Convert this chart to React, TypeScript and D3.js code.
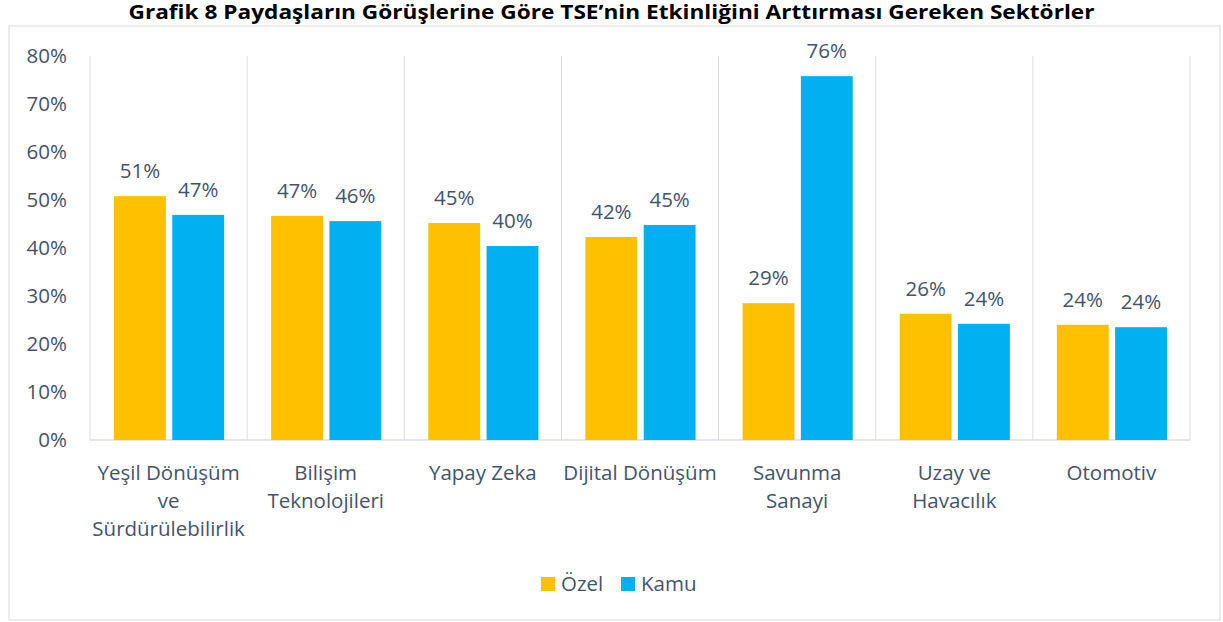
import React from 'react';
import * as d3 from 'd3';

const categories = [
  ['Yeşil Dönüşüm', 've', 'Sürdürülebilirlik'],
  ['Bilişim', 'Teknolojileri'],
  ['Yapay Zeka'],
  ['Dijital Dönüşüm'],
  ['Savunma', 'Sanayi'],
  ['Uzay ve', 'Havacılık'],
  ['Otomotiv'],
];
const ozel = [50.8, 46.7, 45.2, 42.3, 28.5, 26.3, 24.0];
const kamu = [46.9, 45.6, 40.4, 44.8, 75.8, 24.2, 23.5];
const ozelLabels = ['51%', '47%', '45%', '42%', '29%', '26%', '24%'];
const kamuLabels = ['47%', '46%', '40%', '45%', '76%', '24%', '24%'];
const yTicks = [0, 10, 20, 30, 40, 50, 60, 70, 80];
const seriesNames = ['Özel', 'Kamu'];
const colors = ['#FFC000', '#00B0F0'];

const W = 1223;
const H = 622;
const font = "'Open Sans', 'Noto Sans', sans-serif";
const textColor = '#44546A';
const fs = 20.5;

export default function App() {
  const left = 90;
  const right = 1190;
  const top = 56;
  const bottom = 440;

  const x = d3.scaleBand<number>()
    .domain(d3.range(categories.length))
    .range([left, right]);
  const inner = d3.scaleBand<number>()
    .domain([0, 1])
    .range([24, x.bandwidth() - 23])
    .paddingInner(0.11);
  const y = d3.scaleLinear().domain([0, 80]).range([bottom, top]);

  const series = [ozel, kamu];
  const labels = [ozelLabels, kamuLabels];

  return (
    <div style={{ position: 'fixed', left: 0, top: 0 }}>
      <svg width={W} height={H} style={{ display: 'block', background: '#fff' }}>
        <rect x={9} y={26} width={1211} height={594} fill="none" stroke="#D9D9D9" strokeWidth={1} />
        <text x={W / 2} y={19} textAnchor="middle" fontFamily={font} fontWeight="bold"
          fontSize={19} fill="#000" textLength={966} lengthAdjust="spacingAndGlyphs">
          Grafik 8 Paydaşların Görüşlerine Göre TSE’nin Etkinliğini Arttırması Gereken Sektörler
        </text>

        {/* category separators */}
        {d3.range(categories.length + 1).map(i => {
          const gx = left + i * x.bandwidth();
          return <line key={i} x1={gx} x2={gx} y1={top} y2={bottom} stroke="#D9DDE3" strokeWidth={1} />;
        })}
        <line x1={left} x2={right} y1={bottom} y2={bottom} stroke="#D9DDE3" strokeWidth={1.5} />

        {yTicks.map(t => (
          <text key={t} x={67} y={y(t)} dy="0.35em" textAnchor="end" fontFamily={font}
            fontSize={fs} fill={textColor}>{t}%</text>
        ))}

        {categories.map((c, i) => (
          <g key={i} transform={`translate(${x(i)},0)`}>
            {series.map((s, k) => (
              <g key={k}>
                <rect x={inner(k)} y={y(s[i])} width={inner.bandwidth()} height={bottom - y(s[i])}
                  fill={colors[k]} />
                <text x={(inner(k) as number) + inner.bandwidth() / 2} y={y(s[i]) - 18}
                  textAnchor="middle" fontFamily={font} fontSize={fs} fill={textColor}>{labels[k][i]}</text>
              </g>
            ))}
            {c.map((line, j) => (
              <text key={j} x={x.bandwidth() / 2} y={480 + j * 28} textAnchor="middle"
                fontFamily={font} fontSize={fs} fill={textColor}>{line}</text>
            ))}
          </g>
        ))}

        <g transform="translate(541,584)">
          {seriesNames.map((n, k) => (
            <g key={n} transform={`translate(${k * 80},0)`}>
              <rect x={0} y={-7} width={14} height={14} fill={colors[k]} />
              <text x={20} y={0} dy="0.35em" fontFamily={font} fontSize={fs} fill={textColor}>{n}</text>
            </g>
          ))}
        </g>
      </svg>
    </div>
  );
}
